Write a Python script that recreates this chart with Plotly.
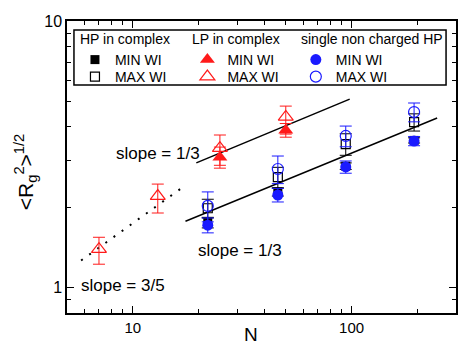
import plotly.graph_objects as go
import numpy as np

# ---- data ----
# HP in complex (black squares)
hp_n = [22, 46, 94, 193]
hp_min = [1.75, 2.28, 2.85, 3.56]
hp_min_err = [0.08, 0.08, 0.08, 0.08]
hp_max = [1.98, 2.59, 3.45, 4.17]
hp_max_err = [0.16, 0.23, 0.32, 0.31]

# LP in complex (red triangles)
lp_min_n = [25, 50]
lp_min = [3.08, 3.89]
lp_min_err = [0.28, 0.23]
lp_max_n = [7, 13, 25, 50]
lp_max = [1.39, 2.2, 3.33, 4.36]
lp_max_err_up = [0.15, 0.24, 0.40, 0.43]
lp_max_err_dn = [0.17, 0.30, 0.46, 0.60]

# single non charged HP (blue circles)
sg_n = [22, 46, 94, 193]
sg_min = [1.71, 2.22, 2.83, 3.54]
sg_min_err = [0.11, 0.13, 0.15, 0.14]
sg_max = [2.02, 2.78, 3.70, 4.55]
sg_max_err = [0.26, 0.33, 0.33, 0.37]

# guide lines (endpoints)
line_up_n = [19.5, 98]
line_up_r = [2.93, 5.09]
line_lo_n = [17.4, 246]
line_lo_r = [1.77, 4.32]
line_dot_n = [5.8, 16.5]
line_dot_r = [1.26, 2.34]

group_titles = ["HP in complex", "LP in complex", "single non charged HP"]
row_names = ["MIN WI", "MAX WI"]

RED = "#ff1a1a"
BLUE = "#1a1aff"
FONT = "Liberation Sans, Arial, sans-serif"

fig = go.Figure()

def err(arr, arrm=None, color="black"):
    d = dict(type="data", array=arr, color=color, thickness=1, width=6, visible=True)
    if arrm is not None:
        d["symmetric"] = False
        d["arrayminus"] = arrm
    return d

# lines
fig.add_trace(go.Scatter(x=line_up_n, y=line_up_r, mode="lines",
                         line=dict(color="black", width=1.5), showlegend=False))
fig.add_trace(go.Scatter(x=line_lo_n, y=line_lo_r, mode="lines",
                         line=dict(color="black", width=1.5), showlegend=False))
fig.add_trace(go.Scatter(x=line_dot_n, y=line_dot_r, mode="lines",
                         line=dict(color="black", width=2, dash="2px,8px"), showlegend=False))

# HP
fig.add_trace(go.Scatter(x=hp_n, y=hp_min, mode="markers", name=row_names[0], legend="legend",
                         marker=dict(symbol="square", size=9, color="black"),
                         error_y=err(hp_min_err)))
fig.add_trace(go.Scatter(x=hp_n, y=hp_max, mode="markers", name=row_names[1], legend="legend2",
                         marker=dict(symbol="square-open", size=9, color="black",
                                     line=dict(width=1.2)),
                         error_y=err(hp_max_err)))
# LP
fig.add_trace(go.Scatter(x=lp_min_n, y=lp_min, mode="markers", name=row_names[0], legend="legend3",
                         marker=dict(symbol="triangle-up", size=13, color=RED),
                         error_y=err(lp_min_err, color=RED)))
fig.add_trace(go.Scatter(x=lp_max_n, y=lp_max, mode="markers", name=row_names[1], legend="legend4",
                         marker=dict(symbol="triangle-up-open", size=13, color=RED,
                                     line=dict(width=1.2)),
                         error_y=err(lp_max_err_up, lp_max_err_dn, color=RED)))
# single
fig.add_trace(go.Scatter(x=sg_n, y=sg_min, mode="markers", name=row_names[0], legend="legend5",
                         marker=dict(symbol="circle", size=11, color=BLUE),
                         error_y=err(sg_min_err, color=BLUE)))
fig.add_trace(go.Scatter(x=sg_n, y=sg_max, mode="markers", name=row_names[1], legend="legend6",
                         marker=dict(symbol="circle-open", size=11, color=BLUE,
                                     line=dict(width=1.2)),
                         error_y=err(sg_max_err, color=BLUE)))

L, R, T, B = 67, 1, 21, 37
W, H = 459, 350
pw, ph = W - L - R, H - T - B

def px(x):
    return (x - L) / pw

def py(y):
    return (H - B - y) / ph

axis_common = dict(type="log", showline=True, linecolor="black", linewidth=1.5,
                   mirror="ticks", ticks="inside", ticklen=7, tickwidth=1.3,
                   tickcolor="black", dtick=1, showgrid=False, zeroline=False,
                   minor=dict(ticks="inside", ticklen=4, tickwidth=1.2,
                              tickcolor="black", dtick="D1", showgrid=False))

leg_common = dict(bgcolor="rgba(0,0,0,0)", borderwidth=0, yanchor="top", xanchor="left",
                  font=dict(family=FONT, size=14, color="black"), itemwidth=30)

col_x = [75, 188, 297]
row_top = [44, 61]
legends = {}
k = 1
for c in range(3):
    for r in range(2):
        key = "legend" if k == 1 else f"legend{k}"
        legends[key] = dict(leg_common, x=px(col_x[c]), y=py(row_top[r]))
        k += 1

title_x = [78, 191, 300]
annotations = [
    dict(text=group_titles[i], xref="paper", yref="paper", x=px(title_x[i]), y=py(39),
         xanchor="left", yanchor="middle", showarrow=False,
         font=dict(family=FONT, size=14))
    for i in range(3)
]
annotations += [
    dict(text="slope = 1/3", xref="paper", yref="paper", x=px(114), y=py(153),
         xanchor="left", yanchor="middle", showarrow=False,
         font=dict(family=FONT, size=17)),
    dict(text="slope = 1/3", xref="paper", yref="paper", x=px(197), y=py(250),
         xanchor="left", yanchor="middle", showarrow=False,
         font=dict(family=FONT, size=17)),
    dict(text="slope = 3/5", xref="paper", yref="paper", x=px(79), y=py(285),
         xanchor="left", yanchor="middle", showarrow=False,
         font=dict(family=FONT, size=17)),
    dict(text="N", xref="paper", yref="paper", x=px(252), y=py(334),
         xanchor="center", yanchor="middle", showarrow=False,
         font=dict(family=FONT, size=19)),
    dict(text="&lt;R<sub>g</sub><sup>2</sup>&gt;<sup>1/2</sup>", xref="paper", yref="paper",
         x=px(25), y=py(172), xanchor="center", yanchor="middle", showarrow=False,
         textangle=-90, font=dict(family=FONT, size=21)),
]

fig.update_layout(
    width=W, height=H,
    margin=dict(l=L, r=R, t=T, b=B),
    paper_bgcolor="white", plot_bgcolor="white",
    font=dict(family=FONT, color="black"),
    xaxis=dict(axis_common, range=[np.log10(5), np.log10(300)],
               tickfont=dict(size=15)),
    yaxis=dict(axis_common, range=[np.log10(0.8), 1],
               tickfont=dict(size=16)),
    shapes=[dict(type="rect", xref="paper", yref="paper",
                 x0=px(74), x1=px(448), y0=py(85), y1=py(30),
                 line=dict(color="black", width=1.5))],
    annotations=annotations,
    **legends,
)

fig.write_html("out.html")
